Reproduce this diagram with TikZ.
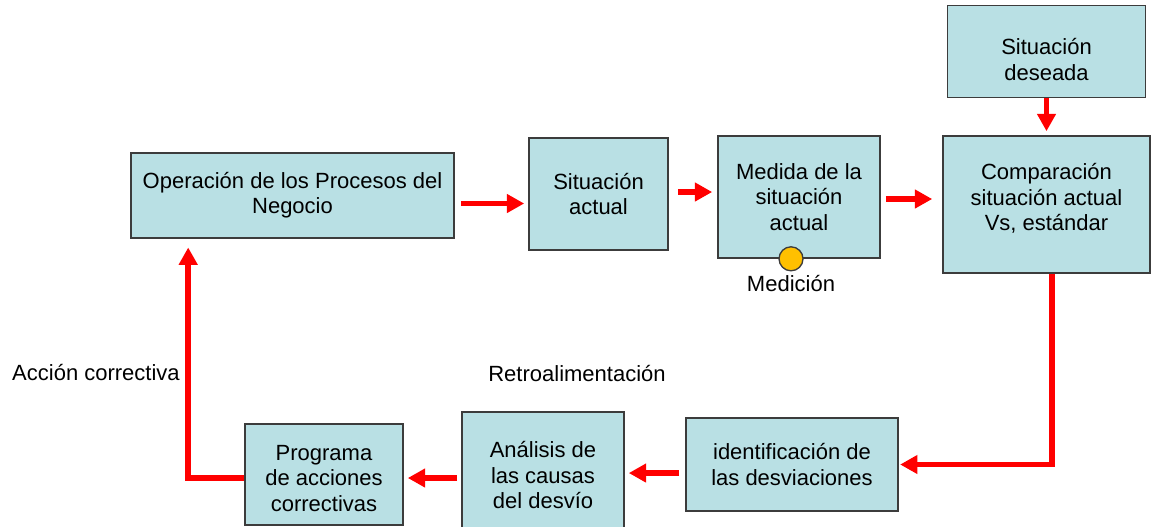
\documentclass[tikz,border=0pt]{standalone}
\usepackage{fontspec}
\setmainfont{Liberation Sans}
\usetikzlibrary{arrows.meta,positioning}
\definecolor{boxfill}{RGB}{185,224,228}
\definecolor{boxline}{RGB}{60,60,60}
\definecolor{dotfill}{RGB}{255,192,0}
\begin{document}
\begin{tikzpicture}[
  x=0.75pt, y=-0.75pt,
  blk/.style={draw=boxline, fill=boxfill, line width=1.2pt, align=center, inner sep=2pt, font=\fontsize{16.5}{19}\selectfont},
  lbl/.style={align=center, font=\fontsize{16.5}{19}\selectfont},
  arr/.style={-{Triangle[length=13pt,width=13.5pt]}, draw=red, line width=4.2pt}
]
\useasboundingbox (0,0) rectangle (1151,526);

\node[blk, minimum width=242.25pt, minimum height=63.75pt] (op) at (292.5,195.5) {Operación de los Procesos del\\Negocio};
\node[blk, minimum width=104.25pt, minimum height=84pt] (sa) at (598.5,194) {Situación\\actual};
\node[blk, minimum width=121.5pt, minimum height=91.5pt] (med) at (799,197) {Medida de la\\situación\\actual};
\node[blk, minimum width=155.25pt, minimum height=102.75pt,
  label={[lbl, yshift=4.5pt]center:Comparación\\situación actual\\Vs, estándar}] (comp) at (1046.5,204.5) {};
\node[blk, minimum width=148.5pt, minimum height=69pt, above=27.75pt of comp,
  label={[lbl, yshift=-6pt]center:Situación\\deseada}] (des) {};
\node[blk, minimum width=159pt, minimum height=69.75pt] (ide) at (792,464.5) {identificación de\\las desviaciones};
\node[blk, minimum width=121.5pt, minimum height=94.5pt] (ana) at (543,475) {Análisis de\\las causas\\del desvío};
\node[blk, minimum width=118.5pt, minimum height=75.75pt,
  label={[lbl, yshift=-3pt]center:Programa\\de acciones\\correctivas}] (prog) at (324,474.5) {};

\node[circle, draw=boxline, fill=dotfill, line width=1pt, minimum size=18pt, inner sep=0pt] (dot) at ([xshift=-6pt]med.south) {};
\node[lbl, below=-1pt of dot] (medic) {Medición};
\node[lbl] (accion) at (96,372) {Acción correctiva};
\node[lbl] (retro) at (577,373) {Retroalimentación};

\draw[arr, shorten <=5pt, shorten >=3pt] ([yshift=-6pt]op.east) -- ([yshift=-6pt]op.east -| sa.west);
\draw[arr, shorten <=6.75pt, shorten >=3.75pt] ([yshift=1.5pt]sa.east) -- ([yshift=1.5pt]sa.east -| med.west);
\draw[arr, shorten <=3.75pt, shorten >=7.5pt] ([yshift=-1.5pt]med.east) -- ([yshift=-1.5pt]med.east -| comp.west);
\draw[arr, shorten >=3pt] (des.south) -- (des.south |- comp.north);
\draw[arr, shorten >=1pt] ([xshift=4pt]comp.south) |- (ide.east);
\draw[arr, shorten <=4.5pt, shorten >=3pt] ([yshift=-6.4pt]ide.west) -- ([yshift=-6.4pt]ide.west -| ana.east);
\draw[arr, shorten <=3pt, shorten >=3pt] ([yshift=-2.25pt]ana.west) -- ([yshift=-2.25pt]ana.west -| prog.east);
\draw[arr, shorten >=6.5pt] ([yshift=-2.6pt]prog.west) -| ([xshift=43.5pt]op.south west);
\end{tikzpicture}
\end{document}
